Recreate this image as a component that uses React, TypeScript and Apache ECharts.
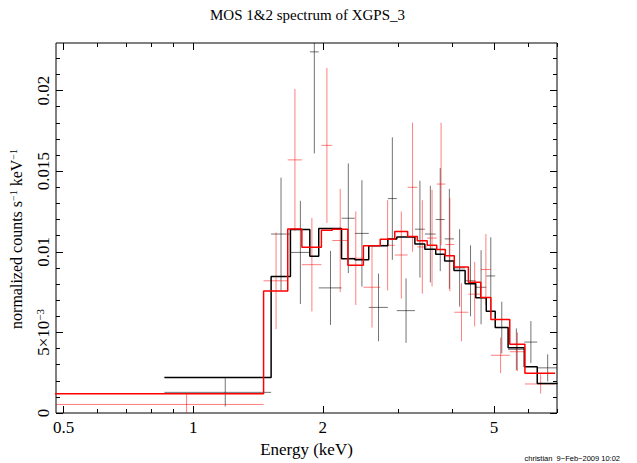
import React, { useEffect, useRef } from "react";
import * as echarts from "echarts";

// MOS1 (black) spectrum: bin edges (keV), model, data, 1-sigma error
const blackEdges = [0.857, 1.517, 1.682, 1.866, 1.957, 2.211, 2.374, 2.557, 2.832, 2.971, 3.273, 3.452, 3.659, 3.838, 4.034, 4.282, 4.533, 4.795, 5.03, 5.389, 5.877, 6.298, 7.02];
const blackModel = [0.0022, 0.00847, 0.01138, 0.00973, 0.01144, 0.00957, 0.00951, 0.01038, 0.0108, 0.01092, 0.01049, 0.01016, 0.00985, 0.00943, 0.00884, 0.00802, 0.00715, 0.00631, 0.0053, 0.00405, 0.00287, 0.00183];
const blackData = [0.00128, 0.0111, 0.00996, 0.0224, 0.00776, 0.01208, 0.01114, 0.00655, 0.0133, 0.00635, 0.0114, 0.0111, 0.012, 0.0108, 0.009, 0.0082, 0.0078, 0.0085, 0.0053, 0.00395, 0.0044, 0.0028];
const blackErr = [0.00088, 0.0035, 0.0032, 0.0063, 0.0023, 0.0034, 0.0033, 0.0021, 0.0038, 0.002, 0.003, 0.003, 0.0032, 0.0031, 0.0024, 0.0022, 0.0023, 0.0024, 0.0016, 0.0013, 0.0013, 0.00084];

// MOS2 (red) spectrum
const redEdges = [0.473, 1.457, 1.658, 1.788, 1.985, 2.104, 2.287, 2.485, 2.719, 2.939, 3.149, 3.316, 3.496, 3.679, 3.852, 4.041, 4.358, 4.655, 4.915, 5.437, 5.896, 6.93];
const redModel = [0.0012, 0.00757, 0.01142, 0.01028, 0.01134, 0.0114, 0.00916, 0.01038, 0.01077, 0.01126, 0.01095, 0.01069, 0.0104, 0.01014, 0.00976, 0.00906, 0.00811, 0.00717, 0.0058, 0.00426, 0.00246];
const redData = [0.00053, 0.0082, 0.0157, 0.0092, 0.0166, 0.0107, 0.0096, 0.0078, 0.0104, 0.0098, 0.014, 0.0103, 0.01085, 0.0142, 0.01045, 0.00625, 0.00737, 0.0089, 0.00358, 0.0038, 0.0018];
const redErr = [0.00067, 0.003, 0.0044, 0.0029, 0.0048, 0.0032, 0.0029, 0.0025, 0.0028, 0.0027, 0.004, 0.0029, 0.003, 0.0038, 0.0029, 0.0018, 0.002, 0.0022, 0.0011, 0.0012, 0.0006];

// axis ticks
const xMajor = [0.5, 1, 2, 5];
const xMajorLabels = ["0.5", "1", "2", "5"];
const xMinor = [0.6, 0.7, 0.8, 0.9, 3, 4, 6, 7];
const xMin = 0.48;
const xMax = 7.0;
const yMajor = [0, 0.005, 0.01, 0.015, 0.02];
const yMajorLabels = ["0", "{a|5×10}{s|−3}", "0.01", "0.015", "0.02"];
const yMinor = [0.001, 0.002, 0.003, 0.004, 0.006, 0.007, 0.008, 0.009, 0.011, 0.012, 0.013, 0.014, 0.016, 0.017, 0.018, 0.019, 0.021, 0.022];
const yMax = 0.02295;

const L = (v: number) => Math.log10(v);
const SERIF = "'Liberation Serif', 'Times New Roman', serif";
const FS = 17;

function stepLine(edges: number[], vals: number[]) {
  const pts: number[][] = [];
  vals.forEach((v, i) => {
    pts.push([L(edges[i]), v]);
    pts.push([L(edges[i + 1]), v]);
  });
  return pts;
}

function crosses(edges: number[], vals: number[], errs: number[]) {
  return vals.map((v, i) => {
    const lo = edges[i];
    const hi = edges[i + 1];
    return [L(lo), L(hi), L((lo + hi) / 2), v, errs[i]];
  });
}

function crossSeries(data: number[][], color: string) {
  return {
    type: "custom",
    xAxisIndex: 0,
    yAxisIndex: 0,
    clip: true,
    silent: true,
    encode: { x: [0, 1, 2], y: 3 },
    data,
    renderItem: (params: any, api: any) => {
      const cs = params.coordSys;
      const cx = (v: number) => Math.min(Math.max(v, cs.x), cs.x + cs.width);
      const cy = (v: number) => Math.min(Math.max(v, cs.y), cs.y + cs.height);
      const y = api.value(3);
      const e = api.value(4);
      const a = api.coord([api.value(0), y]);
      const b = api.coord([api.value(1), y]);
      const c = api.coord([api.value(2), y + e]);
      const d = api.coord([api.value(2), y - e]);
      const style = { stroke: color, lineWidth: 1 };
      return {
        type: "group",
        children: [
          { type: "line", shape: { x1: cx(a[0]), y1: cy(a[1]), x2: cx(b[0]), y2: cy(b[1]) }, style },
          { type: "line", shape: { x1: cx(c[0]), y1: cy(c[1]), x2: cx(d[0]), y2: cy(d[1]) }, style },
        ],
      };
    },
  };
}

const richLabel = {
  a: { fontFamily: SERIF, fontSize: FS, color: "#000" },
  s: { fontFamily: SERIF, fontSize: 11, color: "#000", verticalAlign: "top", padding: [0, 0, 7, 0] },
};
const richName = {
  a: { fontFamily: SERIF, fontSize: 16, color: "#000" },
  s: { fontFamily: SERIF, fontSize: 10, color: "#000", verticalAlign: "top", padding: [0, 0, 7, 0] },
};

function xAxisDef(position: "bottom" | "top", values: number[], len: number, labels: boolean) {
  return {
    type: "value",
    position,
    min: L(xMin),
    max: L(xMax),
    axisLine: { show: false, onZero: false },
    splitLine: { show: false },
    axisTick: {
      show: true,
      inside: true,
      length: len,
      customValues: values.map(L),
      lineStyle: { color: "#000", width: 1 },
    },
    axisLabel: labels
      ? {
          show: true,
          customValues: values.map(L),
          margin: 6,
          color: "#000",
          fontFamily: SERIF,
          fontSize: FS,
          formatter: (v: number) => {
            let best = 0;
            xMajor.forEach((m, i) => {
              if (Math.abs(L(m) - v) < Math.abs(L(xMajor[best]) - v)) best = i;
            });
            return xMajorLabels[best];
          },
        }
      : { show: false },
    ...(labels
      ? {
          name: "Energy (keV)",
          nameLocation: "middle",
          nameGap: 28,
          nameTextStyle: { color: "#000", fontFamily: SERIF, fontSize: FS },
        }
      : {}),
  };
}

function yAxisDef(position: "left" | "right", values: number[], len: number, labels: boolean) {
  return {
    type: "value",
    position,
    min: 0,
    max: yMax,
    axisLine: { show: false, onZero: false },
    splitLine: { show: false },
    axisTick: {
      show: true,
      inside: true,
      length: len,
      customValues: values,
      lineStyle: { color: "#000", width: 1 },
    },
    axisLabel: labels
      ? {
          show: true,
          customValues: values,
          rotate: 90,
          margin: 4,
          color: "#000",
          fontFamily: SERIF,
          fontSize: FS,
          formatter: (v: number) => {
            let best = 0;
            yMajor.forEach((m, i) => {
              if (Math.abs(m - v) < Math.abs(yMajor[best] - v)) best = i;
            });
            return yMajorLabels[best];
          },
          rich: richLabel,
        }
      : { show: false },
    ...(labels
      ? {
          name: "{a|normalized counts s}{s|−1}{a| keV}{s|−1}",
          nameLocation: "middle",
          nameRotate: 90,
          nameGap: 31,
          nameTextStyle: { color: "#000", fontFamily: SERIF, fontSize: 16, rich: richName, padding: [0, 22, 0, 0] },
        }
      : {}),
  };
}

export default function App() {
  const ref = useRef<HTMLDivElement>(null);
  useEffect(() => {
    if (!ref.current) return;
    const chart = echarts.init(ref.current, null, { renderer: "svg" });
    const option: any = {
      animation: false,
      backgroundColor: "#fff",
      title: [
        {
          text: "MOS 1&2 spectrum of XGPS_3",
          left: 210,
          top: 7,
          padding: 0,
          textStyle: { color: "#000", fontFamily: SERIF, fontSize: 15, fontWeight: "normal" },
        },
        {
          text: "christian  9−Feb−2009 10:02",
          right: 17,
          top: 454,
          padding: 0,
          textStyle: { color: "#000", fontFamily: "'Liberation Sans', Arial, sans-serif", fontSize: 7.5, fontWeight: "normal", lineHeight: 8 },
        },
      ],
      grid: { left: 52, right: 80, top: 43, bottom: 44, show: true, borderColor: "#000", borderWidth: 1, backgroundColor: "transparent" },
      xAxis: [
        xAxisDef("bottom", xMajor, 7, true),
        xAxisDef("bottom", xMinor, 4, false),
        xAxisDef("top", xMajor, 7, false),
        xAxisDef("top", xMinor, 4, false),
      ],
      yAxis: [
        yAxisDef("left", yMajor, 7, true),
        yAxisDef("left", yMinor, 4, false),
        yAxisDef("right", yMajor, 7, false),
        yAxisDef("right", yMinor, 4, false),
      ],
      series: [
        crossSeries(crosses(blackEdges, blackData, blackErr), "rgba(0,0,0,0.55)"),
        crossSeries(crosses(redEdges, redData, redErr), "rgba(255,0,0,0.5)"),
        {
          type: "line",
          xAxisIndex: 0,
          yAxisIndex: 0,
          data: stepLine(blackEdges, blackModel),
          symbol: "none",
          clip: true,
          silent: true,
          lineStyle: { color: "#000", width: 1.5 },
        },
        {
          type: "line",
          xAxisIndex: 0,
          yAxisIndex: 0,
          data: stepLine(redEdges, redModel),
          symbol: "none",
          clip: true,
          silent: true,
          lineStyle: { color: "#ff0000", width: 1.5 },
        },
      ],
    };
    chart.setOption(option);
    return () => chart.dispose();
  }, []);
  return <div ref={ref} style={{ position: "absolute", left: 0, top: 0, width: 637, height: 463 }} />;
}
